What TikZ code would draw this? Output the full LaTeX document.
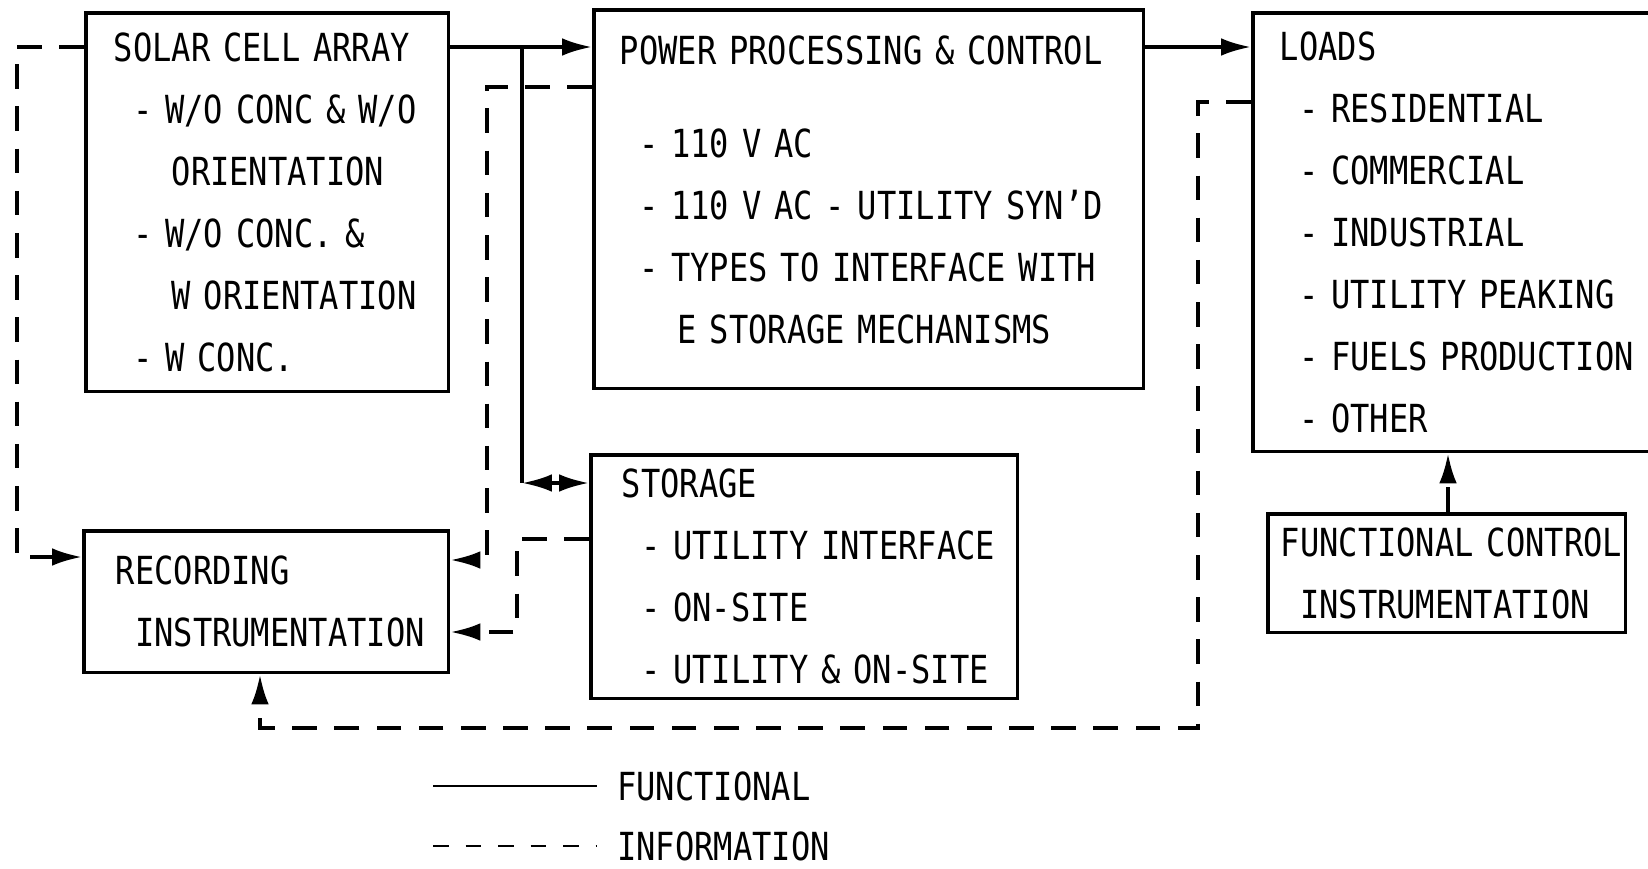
\documentclass[tikz,border=0pt]{standalone}
\usepackage{fontspec}
\setmainfont{DejaVu Sans Mono}[FakeStretch=0.83]
\usetikzlibrary{arrows.meta,positioning,calc}

\newcommand{\indch}{\phantom{x}}

\begin{document}
\begin{tikzpicture}[
    x=0.02cm, y=-0.02cm,
    font=\fontsize{22}{35.3}\selectfont,
    box/.style={rectangle, draw, line width=2pt, anchor=north west,
                align=left, inner xsep=0pt, inner ysep=0pt,
                execute at begin node={\leftskip=#1}},
    box/.default=0.56cm,
    func/.style={line width=2pt},
    info/.style={line width=2pt, dash pattern=on 14pt off 10pt},
    arr/.style={-{Latex[length=17pt, width=10pt]}},
    darr/.style={{Latex[length=17pt, width=10pt]}-{Latex[length=17pt, width=10pt]}},
]
\useasboundingbox (0,0) rectangle (1648,868);
\clip (0,0) rectangle (1648,868);

% Blocks
\node[box, text width=7.26cm, minimum height=7.58cm] (solar) at (84,11)
    {SOLAR CELL ARRAY\\
     \indch- W/O CONC \& W/O\\
     \indch\indch\indch ORIENTATION\\
     \indch- W/O CONC. \&\\
     \indch\indch\indch W ORIENTATION\\
     \indch- W CONC.};
\node[box=0.52cm, text width=11cm, minimum height=7.58cm] (ppc) at (592,8)
    {POWER PROCESSING \& CONTROL\\[0.62cm]
     \indch- 110 V AC\\
     \indch- 110 V AC - UTILITY SYN'D\\
     \indch- TYPES TO INTERFACE WITH\\
     \indch\indch\indch E STORAGE MECHANISMS\\[-0.84cm]\mbox{}};
\node[box=0.54cm, text width=8.4cm, minimum height=8.78cm] (loads) at (1251,11)
    {LOADS\\
     \indch- RESIDENTIAL\\
     \indch- COMMERCIAL\\
     \indch- INDUSTRIAL\\
     \indch- UTILITY PEAKING\\
     \indch- FUELS PRODUCTION\\
     \indch- OTHER};
\node[box=0.62cm, text width=8.54cm, minimum height=4.88cm] (stor) at (589,453)
    {STORAGE\\
     \indch- UTILITY INTERFACE\\
     \indch- ON-SITE\\
     \indch- UTILITY \& ON-SITE};
\node[box=0.64cm, text width=7.3cm, minimum height=2.84cm] (rec) at (82,529)
    {RECORDING\\
     \indch INSTRUMENTATION};
\node[box=0.26cm, text width=7.16cm, minimum height=2.38cm] (fci) at (1266,512)
    {FUNCTIONAL CONTROL\\
     \indch INSTRUMENTATION};

% Functional flow
\coordinate (split) at (522,47);
\coordinate (down) at (522,483);
\draw[func, arr] (split -| solar.east) -- (split -| ppc.west);
\draw[func] (split) -- (down);
\draw[func, darr] (down) -- (down -| stor.west);
\draw[func, arr] (split -| ppc.east) -- (split -| loads.west);

% Information flow
\coordinate (a1) at (17,557);
\draw[info, arr] (split -| solar.west) -| (a1) -- (a1 -| rec.west);
\coordinate (b0) at (487,87);
\coordinate (b1) at (487,560);
\draw[info, arr] (b0 -| ppc.west) -- (b0) -- (b1) -- (b1 -| rec.east);
\coordinate (c0) at (517,539);
\coordinate (c1) at (517,632);
\draw[info, arr] (c0 -| stor.west) -- (c0) -- (c1) -- (c1 -| rec.east);
\coordinate (d0) at (1198,102);
\coordinate (d1) at (1198,728);
\coordinate (d2) at (260,728);
\draw[info, arr] (d0 -| loads.west) -- (d0) -- (d1) -- (d2) -- (d2 |- rec.south);
\coordinate (e0) at (1448,0);
\draw[info, arr] (e0 |- fci.north) -- (e0 |- loads.south);

% Legend
\node[anchor=west, inner xsep=0.4cm, inner ysep=1pt] (lgfunc) at (597,786) {FUNCTIONAL};
\node[anchor=west, inner xsep=0.4cm, inner ysep=1pt] (lginfo) at (597,846) {INFORMATION};
\coordinate (lg) at (433,0);
\draw[func, line width=1.3pt] (lg |- lgfunc) -- (lgfunc);
\draw[info, line width=1.6pt, dash pattern=on 9pt off 9.5pt] (lg |- lginfo) -- (lginfo);

\end{tikzpicture}
\end{document}
